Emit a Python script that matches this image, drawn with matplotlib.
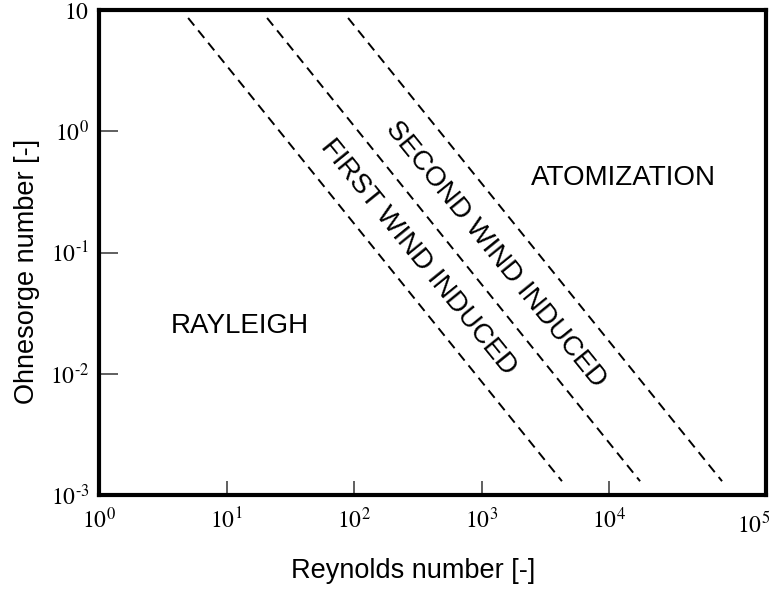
import matplotlib
matplotlib.use("Agg")
import matplotlib.pyplot as plt
import matplotlib.transforms as mtransforms

plt.rcParams['mathtext.fontset'] = 'stix'
plt.rcParams['font.family'] = ['Liberation Sans', 'DejaVu Sans']

# regime boundaries (end points of each dashed line)
boundary_re_start = [5.0, 20.8, 89.8]
boundary_re_end = [4270.0, 17500.0, 76900.0]
boundary_oh = [8.6, 0.0013]

regime_names = ["RAYLEIGH", "FIRST WIND INDUCED", "SECOND WIND INDUCED", "ATOMIZATION"]
regime_re = [12.8, 318.0, 1277.0, 12900.0]
regime_oh = [0.025, 0.091, 0.096, 0.41]
regime_rot = [0, -51, -51, 0]

xtick_vals = [1, 10, 100, 1000, 10000]
xtick_labels = [r'$10^{0}$', r'$10^{1}$', r'$10^{2}$', r'$10^{3}$', r'$10^{4}$']
ytick_vals = [10, 1, 0.1, 0.01, 0.001]
ytick_labels = [r'$10$', r'$10^{0}$', r'$10^{\text{-}1}$', r'$10^{\text{-}2}$', r'$10^{\text{-}3}$']

fig = plt.figure(figsize=(7.76, 5.90), dpi=100)
ax = fig.add_axes([0.1276, 0.161, 0.8594, 0.822])
ax.set_xscale('log')
ax.set_yscale('log')
ax.set_xlim(1, 10 ** 5.23)
ax.set_ylim(1e-3, 10)

for x0, x1 in zip(boundary_re_start, boundary_re_end):
    ax.plot([x0, x1], boundary_oh, color='black', lw=1.4, linestyle=(0, (5, 3.2)))

for name, x, y, r in zip(regime_names, regime_re, regime_oh, regime_rot):
    ax.text(x, y, name, rotation=r, rotation_mode='anchor', ha='center', va='center',
            fontsize=20)

for s in ax.spines.values():
    s.set_linewidth(3)

ax.minorticks_off()
ax.set_xticks(xtick_vals)
ax.set_xticklabels(xtick_labels, fontsize=17)
ax.set_yticks(ytick_vals)
ax.set_yticklabels(ytick_labels, fontsize=17)
ax.tick_params(axis='x', direction='in', length=10, width=1.2, color='#444444', pad=9)
ax.tick_params(axis='y', direction='in', length=14, width=1.2, color='#444444', pad=7)

# last decade label sits near the right border
trans = mtransforms.blended_transform_factory(ax.transAxes, ax.transAxes)
ax.text(0.982, -0.035, r'$10^{5}$', transform=trans, ha='center', va='top', fontsize=17)

ax.set_xlabel('Reynolds number [-]', fontsize=19.5)
ax.set_ylabel('Ohnesorge number [-]', fontsize=19.5)
ax.xaxis.set_label_coords(0.471, -0.13)
ax.yaxis.set_label_coords(-0.088, 0.46)

fig.savefig('out.png', dpi=100)
